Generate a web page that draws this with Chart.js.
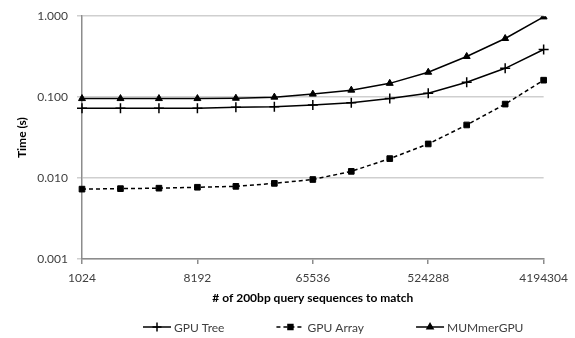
<!DOCTYPE html>
<html>
<head>
<meta charset="utf-8">
<script src="https://cdn.jsdelivr.net/npm/chart.js@4"></script>
<style>
  html, body { margin: 0; padding: 0; background: #fff; }
  .wrap { width: 575px; height: 338px; }
</style>
</head>
<body>
<div class="wrap"><canvas id="myChart" width="575" height="338"></canvas></div>
<script>
// data
const sizes = ["1024", "2048", "4096", "8192", "16384", "32768", "65536",
  "131072", "262144", "524288", "1048576", "2097152", "4194304"];
const shownSizes = ["1024", "8192", "65536", "524288", "4194304"];
const yTicks = [0.001, 0.01, 0.1, 1];

const gpuTree = [0.073, 0.073, 0.073, 0.073, 0.075, 0.076, 0.080, 0.085, 0.096, 0.112, 0.153, 0.227, 0.388];
const gpuArray = [0.0073, 0.0074, 0.0075, 0.0077, 0.0079, 0.0086, 0.0096, 0.0121, 0.0174, 0.0264, 0.0453, 0.082, 0.162];
const mummer = [0.096, 0.096, 0.096, 0.096, 0.097, 0.100, 0.109, 0.122, 0.148, 0.203, 0.318, 0.53, 0.98];

const FONT = "Lato";
const textColor = "#404040";

// legend drawn under the axis title
const bottomLegend = {
  id: "bottomLegend",
  afterDraw(chart) {
    const ctx = chart.ctx;
    const y = 327;
    let x = 143;
    ctx.save();
    ctx.font = "12px " + FONT;
    ctx.textBaseline = "middle";
    ctx.textAlign = "left";
    chart.data.datasets.forEach((ds) => {
      ctx.strokeStyle = "#000";
      ctx.fillStyle = "#000";
      ctx.lineWidth = 1.5;
      ctx.setLineDash(ds.borderDash || []);
      ctx.beginPath();
      ctx.moveTo(x, y);
      ctx.lineTo(x + 28, y);
      ctx.stroke();
      ctx.setLineDash([]);
      Chart.helpers.drawPoint(ctx, {
        pointStyle: ds.pointStyle,
        radius: ds.pointRadius - 0.5,
        rotation: 0,
        borderWidth: 1.5,
      }, x + 14, y);
      ctx.fillStyle = textColor;
      ctx.fillText(ds.label, x + 31, y + 1);
      x += 31 + ctx.measureText(ds.label).width + 52;
    });
    ctx.restore();
  },
};

const ctx = document.getElementById("myChart").getContext("2d");

new Chart(ctx, {
  type: "line",
  data: {
    labels: sizes,
    datasets: [
      {
        label: "GPU Tree",
        data: gpuTree,
        borderColor: "#000",
        backgroundColor: "#000",
        borderWidth: 1.5,
        pointStyle: "cross",
        pointRadius: 5,
        pointBorderWidth: 1.5,
      },
      {
        label: "GPU Array",
        data: gpuArray,
        borderColor: "#000",
        backgroundColor: "#000",
        borderWidth: 1.5,
        borderDash: [4, 3],
        pointStyle: "rect",
        pointRadius: 4,
        pointBorderWidth: 1,
      },
      {
        label: "MUMmerGPU",
        data: mummer,
        borderColor: "#000",
        backgroundColor: "#000",
        borderWidth: 1.5,
        pointStyle: "triangle",
        pointRadius: 4,
        pointBorderWidth: 1,
      },
    ],
  },
  options: {
    responsive: false,
    animation: false,
    layout: {
      padding: { left: 0, right: 30, top: 14, bottom: 29 },
    },
    plugins: {
      legend: { display: false },
      tooltip: { enabled: false },
    },
    scales: {
      x: {
        type: "category",
        offset: false,
        border: { color: "#8c8c8c", width: 1.5 },
        grid: {
          drawOnChartArea: false,
          drawTicks: true,
          tickLength: 5,
          color: "#8c8c8c",
          lineWidth: 1.5,
        },
        ticks: {
          autoSkip: false,
          maxRotation: 0,
          padding: 7,
          color: textColor,
          font: { family: FONT, size: 12 },
          callback: function (value) {
            const lbl = this.getLabelForValue(value);
            return shownSizes.includes(lbl) ? lbl : null;
          },
        },
        title: {
          display: true,
          text: "# of 200bp query sequences to match",
          color: "#000",
          font: { family: FONT, size: 12, weight: "bold" },
          padding: { top: 0, bottom: 4 },
        },
        afterFit(scale) {
          scale.height = 50;
        },
      },
      y: {
        type: "logarithmic",
        min: 0.001,
        max: 1,
        border: { color: "#8c8c8c", width: 1.5 },
        grid: {
          color: "#cfcfcf",
          lineWidth: 1.5,
          tickLength: 5,
        },
        ticks: {
          padding: 9,
          color: textColor,
          font: { family: FONT, size: 12 },
          callback: (v) => v.toFixed(3),
        },
        afterBuildTicks(scale) {
          scale.ticks = yTicks.map((v) => ({ value: v }));
        },
        title: {
          display: true,
          text: "Time (s)",
          color: "#000",
          font: { family: FONT, size: 12, weight: "bold" },
          padding: { top: 15, bottom: 0 },
        },
        afterFit(scale) {
          scale.width = 82;
        },
      },
    },
  },
  plugins: [bottomLegend],
});
</script>
</body>
</html>
